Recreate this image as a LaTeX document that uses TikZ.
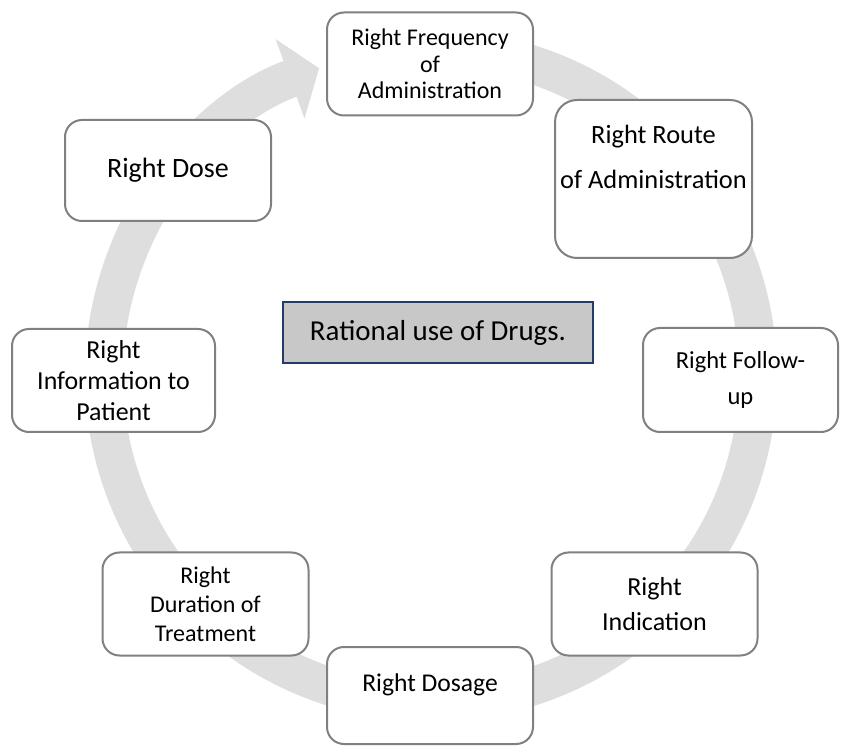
\documentclass[tikz,border=0pt]{standalone}
\usepackage{fontspec}
\setmainfont{Carlito}
\usepackage{tikz}
\usetikzlibrary{arrows.meta}
\definecolor{boxline}{RGB}{128,128,128}
\definecolor{hubline}{RGB}{38,58,104}
\definecolor{hubfill}{RGB}{200,200,200}
\definecolor{ringgray}{RGB}{222,222,222}
\newcommand{\fs}[2]{\fontsize{#1}{#2}\selectfont}
\tikzset{
  stepbox/.style={rectangle,rounded corners=17pt,draw=boxline,line width=2pt,fill=white,align=center,inner sep=0pt,minimum width=206pt,minimum height=103pt,font=\fs{25}{31}},
  hubbox/.style={rectangle,draw=hubline,line width=2pt,fill=hubfill,align=center,inner sep=0pt,minimum width=310pt,minimum height=61pt,font=\fs{28.9}{34}},
  ring/.style={draw=ringgray,line width=38pt,-{Triangle[length=31pt,width=83pt]}}
}

\begin{document}
\begin{tikzpicture}[x=1pt,y=1pt]
  \useasboundingbox (0,0) rectangle (841,745);
  % grey cycle arrow behind the steps
  \draw[ring] (431,369.5) ++(80:327) arc[start angle=80,end angle=-250,radius=327];
  \node[hubbox] (hub) at (438,412.5) {Rational use of Drugs.};
  \node[stepbox,font=\fs{24}{26.5}] (freq) at (430,681) {Right Frequency\\of\\Administration};
  \node[stepbox,rounded corners=22pt,minimum width=197pt,minimum height=158pt,font=\fs{26.4}{45}] (route) at (653.5,566) {Right Route\\of Administration\\\mbox{}};
  \node[stepbox,minimum width=195pt,minimum height=104pt,font=\fs{24.5}{36}] (follow) at (740.5,365) {Right Follow-\\up};
  \node[stepbox,font=\fs{26}{35}] (indic) at (654.5,141) {Right\\Indication};
  \node[stepbox,minimum height=97pt,font=\fs{25.6}{26}] (dosage) at (430,49.5) {Right Dosage\\\mbox{}};
  \node[stepbox,font=\fs{24}{29}] (duration) at (205.5,141) {Right\\Duration of\\Treatment};
  \node[stepbox,minimum width=203pt,font=\fs{25.9}{31}] (info) at (113.5,364.5) {Right\\Information to\\Patient};
  \node[stepbox,minimum height=101pt,font=\fs{28}{34}] (dose) at (168,574.5) {Right Dose};
\end{tikzpicture}
\end{document}
